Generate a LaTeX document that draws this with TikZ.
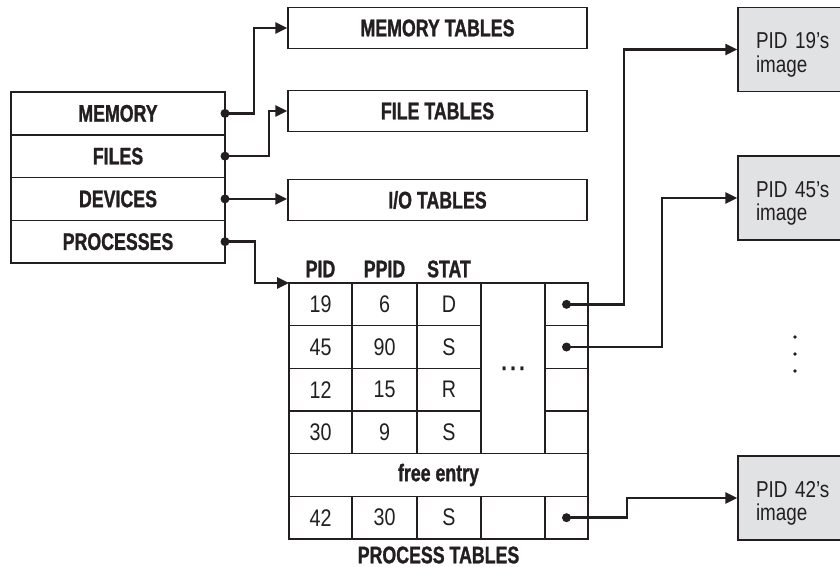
\documentclass[tikz,border=0pt]{standalone}
\usepackage{fontspec}
\setmainfont[FakeStretch=0.82]{Liberation Sans}
\newfontfamily\condbold[FakeStretch=0.74,BoldFeatures={FakeBold=1.2}]{Liberation Sans}
\usetikzlibrary{arrows.meta,positioning}
\definecolor{lineDark}{HTML}{231F20}
\definecolor{imgFill}{HTML}{E1E2E4}
\tikzset{
    field/.style={
        draw=lineDark,
        rectangle,
        line width=1.5pt,
        minimum width=214pt,
        minimum height=42.75pt,
        inner sep=0pt,
        outer sep=0pt,
        text=lineDark,
        font=\condbold\bfseries\fontsize{24}{21}\selectfont
    },
    tablebox/.style={
        draw=lineDark,
        rectangle,
        line width=1.5pt,
        minimum width=299pt,
        minimum height=41pt,
        inner sep=0pt,
        text=lineDark,
        font=\condbold\bfseries\fontsize{24}{21}\selectfont
    },
    cell/.style={
        draw=lineDark,
        rectangle,
        line width=1.3pt,
        minimum height=42.67pt,
        inner sep=0pt,
        outer sep=0pt,
        text=lineDark,
        font=\fontsize{24}{21}\selectfont
    },
    head/.style={
        inner sep=0pt,
        text=lineDark,
        font=\condbold\bfseries\fontsize{24}{21}\selectfont
    },
    image/.style={
        draw=lineDark,
        fill=imgFill,
        rectangle,
        line width=1.5pt,
        minimum height=84pt,
        inner xsep=18pt,
        text width=90pt,
        text height=27pt,
        align=left,
        text=lineDark,
        font=\fontsize{23}{23.5}\selectfont
    },
    conn/.style={
        -{Triangle[length=12pt,width=11pt]},
        line width=2.6pt,
        color=lineDark
    },
    dot/.style={
        fill=lineDark
    }
}

\begin{document}
\begin{tikzpicture}[x=1pt, y=-1pt]
    \useasboundingbox (0,0) rectangle (840,567);

    % Kernel entry table
    \node[field] (memory) at (118,113.4) {MEMORY};
    \node[field, below=0pt of memory] (files) {FILES};
    \node[field, below=0pt of files] (devices) {DEVICES};
    \node[field, below=0pt of devices] (processes) {PROCESSES};

    % Resource tables
    \node[tablebox] (memtab) at (437.5,28) {MEMORY TABLES};
    \node[tablebox] (filetab) at (437.5,111) {FILE TABLES};
    \node[tablebox] (iotab) at (437.5,200) {I/O TABLES};

    % Process table rows
    \foreach \r/\pid/\ppid/\stat in {1/19/6/D, 2/45/90/S, 3/12/15/R, 4/30/9/S, 6/42/30/S} {
        \node[cell, minimum width=63pt] (pid\r) at (320.5,{283+42.67*(\r-0.5)}) {\pid};
        \node[cell, minimum width=65pt] (ppid\r) at (384.5,{283+42.67*(\r-0.5)}) {\ppid};
        \node[cell, minimum width=64pt] (stat\r) at (449,{283+42.67*(\r-0.5)}) {\stat};
        \node[cell, minimum width=43pt] (ptr\r) at (566.5,{283+42.67*(\r-0.5)}) {};
    }
    \node[cell, minimum width=64pt, minimum height=170.67pt,
          font=\condbold\bfseries\fontsize{24}{21}\selectfont] (more) at (513,368.3) {.\hspace{4pt}.\hspace{4pt}.};
    \node[cell, minimum width=299pt,
          font=\condbold\bfseries\fontsize{24}{21}\selectfont] (free) at (438.5,475) {free entry};
    \node[cell, minimum width=64pt] (gap6) at (513,517.7) {};

    % Column heads
    \node[head] (hpid) at ([yshift=14pt]pid1.north) {PID};
    \node[head] (hppid) at ([yshift=14pt]ppid1.north) {PPID};
    \node[head] (hstat) at ([yshift=14pt]stat1.north) {STAT};
    \node[head] (ptlabel) at (438.5,555) {PROCESS TABLES};

    % Process images
    \node[image] (img19) at (801,49.5) {PID 19’s\\image};
    \node[image] (img45) at (801,198) {PID 45’s\\image};
    \node[image] (img42) at (801,498) {PID 42’s\\image};

    % Connections
    \draw[conn] (memory.east) -- ++(29,0) |- (memtab.west);
    \draw[conn] (files.east) -- ++(44,0) |- (filetab.west);
    \draw[conn] (devices.east) -- (devices.east -| iotab.west);
    \draw[conn] (processes.east) -- ++(30,0) |- (pid1.north west);
    \draw[conn] (ptr1.center) -- ++(57.5,0) |- (img19.west);
    \draw[conn] (ptr2.center) -- ++(95.5,0) |- (img45.west);
    \draw[conn] (ptr6.center) -- ++(60.5,0) |- (img42.west);

    % Pointer dots
    \fill[dot] (memory.east) circle (4.5);
    \fill[dot] (files.east) circle (4.5);
    \fill[dot] (devices.east) circle (4.5);
    \fill[dot] (processes.east) circle (4.5);
    \fill[dot] (ptr1.center) circle (4.5);
    \fill[dot] (ptr2.center) circle (4.5);
    \fill[dot] (ptr6.center) circle (4.5);

    % More images
    \foreach \y in {337,354,371}
        \fill[dot] (795,\y) circle (1.8);
\end{tikzpicture}
\end{document}
